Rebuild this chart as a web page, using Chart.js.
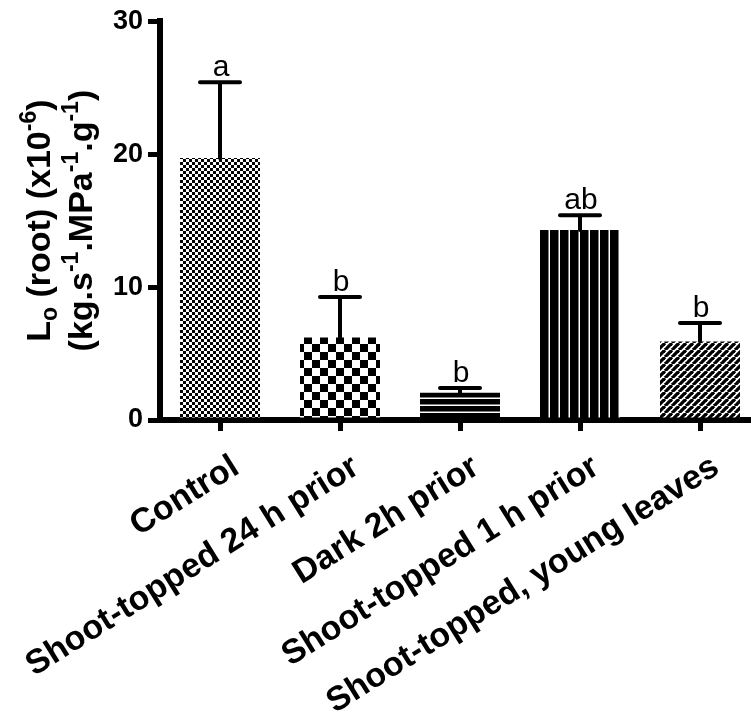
<!DOCTYPE html>
<html>
<head>
<meta charset="utf-8">
<script src="https://cdn.jsdelivr.net/npm/chart.js@4/dist/chart.umd.min.js"></script>
<style>
  html, body { margin: 0; padding: 0; background: #fff; overflow: hidden; }
  #wrap { width: 770px; height: 719px; }
</style>
</head>
<body>
<div id="wrap"><canvas id="c" width="770" height="719"></canvas></div>
<script>
// Root hydraulic conductance per treatment (mean, upward SD) and significance letters
const categories = ['Control', 'Shoot-topped 24 h prior', 'Dark 2h prior', 'Shoot-topped 1 h prior', 'Shoot-topped, young leaves'];
const meanValues = [19.7, 6.2, 2.05, 14.3, 5.9];
const errorValues = [5.7, 3.05, 0.35, 1.1, 1.4];
const groupLetters = ['a', 'b', 'b', 'ab', 'b'];
const yTickValues = [0, 10, 20, 30];

const FONT = 'Arial, "Liberation Sans", sans-serif';

// Black-and-white fill patterns, one per bar
function makePattern(w, h, draw) {
  const c = document.createElement('canvas');
  c.width = w; c.height = h;
  const g = c.getContext('2d');
  g.fillStyle = '#fff'; g.fillRect(0, 0, w, h);
  g.fillStyle = '#000'; g.strokeStyle = '#000';
  draw(g, w, h);
  return g.createPattern(c, 'repeat');
}
function checker(size) {
  return makePattern(size * 2, size * 2, (g) => {
    g.fillRect(0, 0, size, size);
    g.fillRect(size, size, size, size);
  });
}
const fills = [
  checker(3),
  checker(8),
  makePattern(8, 7, (g, w) => { g.fillRect(0, 0, w, 5.5); }),
  makePattern(10, 8, (g, w, h) => { g.fillRect(0, 0, 8.5, h); }),
  makePattern(7, 7, (g, w, h) => {
    g.lineWidth = 3.3;
    for (let k = -1; k <= 1; k++) {
      g.beginPath(); g.moveTo(k * w, h); g.lineTo(k * w + w, 0); g.stroke();
    }
  })
];

// Upward error bars with caps, plus the group letters above them
const errorBarPlugin = {
  id: 'errorBars',
  afterDatasetsDraw(chart) {
    const { ctx, scales: { x, y } } = chart;
    ctx.save();
    ctx.strokeStyle = '#000';
    ctx.lineCap = 'round';
    ctx.lineWidth = 4;
    meanValues.forEach((v, i) => {
      const px = x.getPixelForValue(i);
      const y0 = y.getPixelForValue(v);
      const y1 = y.getPixelForValue(v + errorValues[i]);
      ctx.beginPath();
      ctx.moveTo(px, y0); ctx.lineTo(px, y1);
      ctx.moveTo(px - 20, y1); ctx.lineTo(px + 20, y1);
      ctx.stroke();
      ctx.fillStyle = '#000';
      ctx.font = '30px ' + FONT;
      ctx.textAlign = 'center';
      ctx.textBaseline = 'alphabetic';
      ctx.fillText(groupLetters[i], px + 1, y1 - 6);
    });
    ctx.restore();
  }
};

// Rotated two-line axis title with sub- and superscripts
const yTitleLines = [
  [['L', 0], ['o', -1], [' (root) (x10', 0], ['-6', 1], [')', 0]],
  [['(kg.s', 0], ['-1', 1], ['.MPa', 0], ['-1', 1], ['.g', 0], ['-1', 1], [')', 0]]
];
const yTitlePlugin = {
  id: 'yTitle',
  afterDraw(chart) {
    const { ctx, chartArea } = chart;
    const size = 34;
    const cy = (chartArea.top + chartArea.bottom) / 2;
    const baselines = [50, 92];
    ctx.save();
    ctx.fillStyle = '#000';
    ctx.textBaseline = 'alphabetic';
    ctx.textAlign = 'left';
    yTitleLines.forEach((segs, li) => {
      const fontFor = (m) => 'bold ' + (m === 0 ? size : Math.round(size * 0.68)) + 'px ' + FONT;
      let total = 0;
      segs.forEach(([t, m]) => { ctx.font = fontFor(m); total += ctx.measureText(t).width; });
      ctx.save();
      ctx.translate(baselines[li], cy);
      ctx.rotate(-Math.PI / 2);
      let xx = -total / 2;
      segs.forEach(([t, m]) => {
        ctx.font = fontFor(m);
        const dy = m === 1 ? -size * 0.42 : (m === -1 ? size * 0.2 : 0);
        ctx.fillText(t, xx, dy);
        xx += ctx.measureText(t).width;
      });
      ctx.restore();
    });
    ctx.restore();
  }
};

Chart.defaults.font.family = FONT;
Chart.defaults.color = '#000';

new Chart(document.getElementById('c'), {
  type: 'bar',
  data: {
    labels: categories,
    datasets: [{
      data: meanValues,
      backgroundColor: fills,
      borderWidth: 0,
      categoryPercentage: 1,
      barPercentage: 0.6667
    }]
  },
  options: {
    responsive: false,
    animation: false,
    layout: { padding: { top: 20, right: 10, left: 0, bottom: 0 } },
    plugins: { legend: { display: false }, tooltip: { enabled: false } },
    scales: {
      x: {
        offset: true,
        grid: { offset: false, drawOnChartArea: false, drawTicks: true, tickLength: 11, lineWidth: 5, color: '#000' },
        border: { display: true, width: 6, color: '#000' },
        ticks: {
          autoSkip: false, minRotation: 32, maxRotation: 32, padding: 16, labelOffset: 16,
          font: { size: 34, weight: 'bold' }, color: '#000'
        },
        afterFit(scale) { scale.height = 299; }
      },
      y: {
        min: 0, max: 30,
        afterBuildTicks(scale) { scale.ticks = yTickValues.map(v => ({ value: v })); },
        grid: { drawOnChartArea: false, drawTicks: true, tickLength: 12, lineWidth: 5, color: '#000' },
        border: { display: true, width: 6, color: '#000' },
        ticks: { padding: 5, font: { size: 27, weight: 'bold' }, color: '#000' },
        afterFit(scale) { scale.width = 160; }
      }
    }
  },
  plugins: [errorBarPlugin, yTitlePlugin]
});
</script>
</body>
</html>
